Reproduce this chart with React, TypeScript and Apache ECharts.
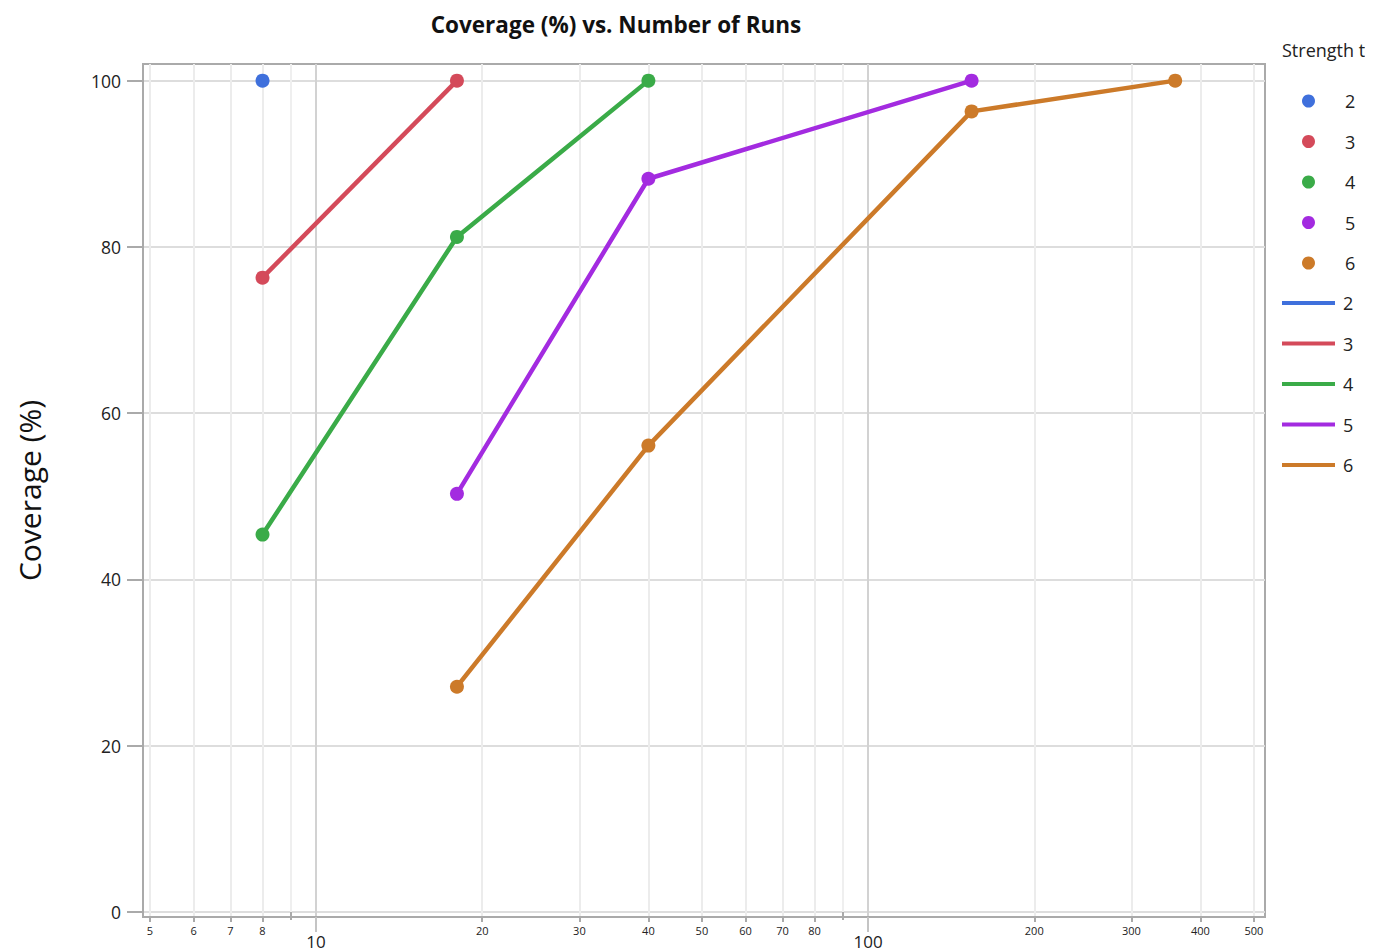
import React, { useEffect, useRef } from "react";
import * as echarts from "echarts";

const strengths = ["2", "3", "4", "5", "6"];
const colors = ["#3f70dc", "#d44a5a", "#3aab48", "#a32be0", "#cc7a29"];
const runsT2 = [8];
const covT2 = [100];
const runsT3 = [8, 18];
const covT3 = [76.3, 100];
const runsT4 = [8, 18, 40];
const covT4 = [45.4, 81.2, 100];
const runsT5 = [18, 40, 154];
const covT5 = [50.3, 88.2, 100];
const runsT6 = [18, 40, 154, 360];
const covT6 = [27.1, 56.1, 96.3, 100];
const minorTicks = [5, 6, 7, 8, 20, 30, 40, 50, 60, 70, 80, 200, 300, 400, 500];
const midTicks = [9, 90];
const majorTicks = [10, 100];
const yTicks = [0, 20, 40, 60, 80, 100];

const runs = [runsT2, runsT3, runsT4, runsT5, runsT6];
const covs = [covT2, covT3, covT4, covT5, covT6];

const FONT = "'Open Sans', 'Noto Sans', sans-serif";
const X_MIN = 0.6866;
const X_MAX = 2.719;

export default function App() {
  const ref = useRef<HTMLDivElement>(null);
  useEffect(() => {
    if (!ref.current) return;
    const chart = echarts.init(ref.current, null, { renderer: "svg" });
    const lg = (v: number) => Math.log10(v);
    const baseX = {
      type: "value",
      min: X_MIN,
      max: X_MAX,
      position: "bottom",
      axisLine: { show: false },
    };
    const lineSeries = strengths.map((s, i) => ({
      type: "line",
      name: s + " ",
      data: runs[i].map((r, j) => [lg(r), covs[i][j]]),
      showSymbol: false,
      symbol: "none",
      lineStyle: { width: 4.5, color: colors[i] },
      itemStyle: { color: colors[i] },
      z: 2,
    }));
    const scatterSeries = strengths.map((s, i) => ({
      type: "scatter",
      name: s,
      data: runs[i].map((r, j) => [lg(r), covs[i][j]]),
      symbol: "circle",
      symbolSize: 14,
      itemStyle: { color: colors[i], opacity: 1 },
      z: 3,
    }));
    chart.setOption({
      animation: false,
      textStyle: { fontFamily: FONT },
      grid: {
        left: 135,
        right: 108,
        top: 56,
        bottom: 35,
        show: true,
        borderColor: "#aaaaaa",
        borderWidth: 2,
        containLabel: false,
        outerBoundsMode: "none",
      },
      graphic: [
        {
          type: "text",
          x: 608,
          y: 16,
          style: {
            text: "Coverage (%) vs. Number of Runs",
            fontSize: 22.5,
            fontWeight: "bold",
            fontFamily: FONT,
            fill: "#111",
            align: "center",
            verticalAlign: "middle",
          },
        },
        {
          type: "text",
          x: 1274,
          y: 42,
          style: {
            text: "Strength t",
            fontSize: 18,
            fontFamily: FONT,
            fill: "#222",
            align: "left",
            verticalAlign: "middle",
          },
        },
      ],
      legend: [
        {
          orient: "vertical",
          left: 1294,
          top: 83,
          padding: 0,
          itemGap: 20.5,
          itemWidth: 53,
          itemHeight: 13,
          icon: "circle",
          data: strengths,
          textStyle: {
            fontSize: 18,
            color: "#222",
            lineHeight: 20,
            fontFamily: FONT,
            padding: [0, 0, 0, 5],
          },
        },
        {
          orient: "vertical",
          left: 1274,
          top: 285,
          padding: 0,
          itemGap: 20.5,
          itemWidth: 53,
          itemHeight: 4,
          icon: "rect",
          data: strengths.map((s) => s + " "),
          formatter: (n: string) => n.trim(),
          textStyle: {
            fontSize: 18,
            color: "#222",
            lineHeight: 20,
            fontFamily: FONT,
            padding: [0, 0, 0, 3],
          },
        },
      ],
      xAxis: [
        {
          ...baseX,
          axisLine: { show: true, onZero: false, lineStyle: { color: "#aaaaaa", width: 2 } },
          axisTick: {
            show: true,
            length: 5,
            customValues: minorTicks.map(lg),
            lineStyle: { color: "#aaaaaa", width: 2 },
          },
          axisLabel: {
            customValues: minorTicks.map(lg),
            formatter: (v: number) => String(Math.round(Math.pow(10, v))),
            fontSize: 11,
            color: "#222",
            margin: 8,
            fontFamily: FONT,
          },
          splitLine: { show: true, lineStyle: { color: "#ececec", width: 2 } },
        },
        {
          ...baseX,
          axisTick: {
            show: true,
            length: 8,
            customValues: midTicks.map(lg),
            lineStyle: { color: "#aaaaaa", width: 2 },
          },
          axisLabel: { show: false },
          splitLine: { show: true, lineStyle: { color: "#efefef", width: 2 } },
        },
        {
          ...baseX,
          axisTick: {
            show: true,
            length: 15,
            customValues: majorTicks.map(lg),
            lineStyle: { color: "#c4c4c4", width: 2 },
          },
          axisLabel: {
            customValues: majorTicks.map(lg),
            formatter: (v: number) => String(Math.round(Math.pow(10, v))),
            fontSize: 17,
            color: "#222",
            margin: 16,
            fontFamily: FONT,
          },
          splitLine: { show: true, lineStyle: { color: "#d2d2d2", width: 2 } },
        },
      ],
      yAxis: {
        type: "value",
        min: -0.6,
        max: 102,
        name: "Coverage (%)",
        nameLocation: "middle",
        nameGap: 98,
        nameTextStyle: { fontSize: 30, color: "#111", fontFamily: FONT, lineHeight: 32 },
        axisLine: { show: true, onZero: false, lineStyle: { color: "#aaaaaa", width: 2 } },
        axisTick: {
          show: true,
          length: 16,
          customValues: yTicks,
          lineStyle: { color: "#aaaaaa", width: 2 },
        },
        axisLabel: {
          customValues: yTicks,
          fontSize: 17.5,
          color: "#222",
          margin: 22,
          fontFamily: FONT,
        },
        splitLine: { show: true, lineStyle: { color: "#dddddd", width: 2 } },
      },
      series: [...lineSeries, ...scatterSeries],
    });
    return () => chart.dispose();
  }, []);
  return <div ref={ref} style={{ width: 1365, height: 944 }} />;
}
